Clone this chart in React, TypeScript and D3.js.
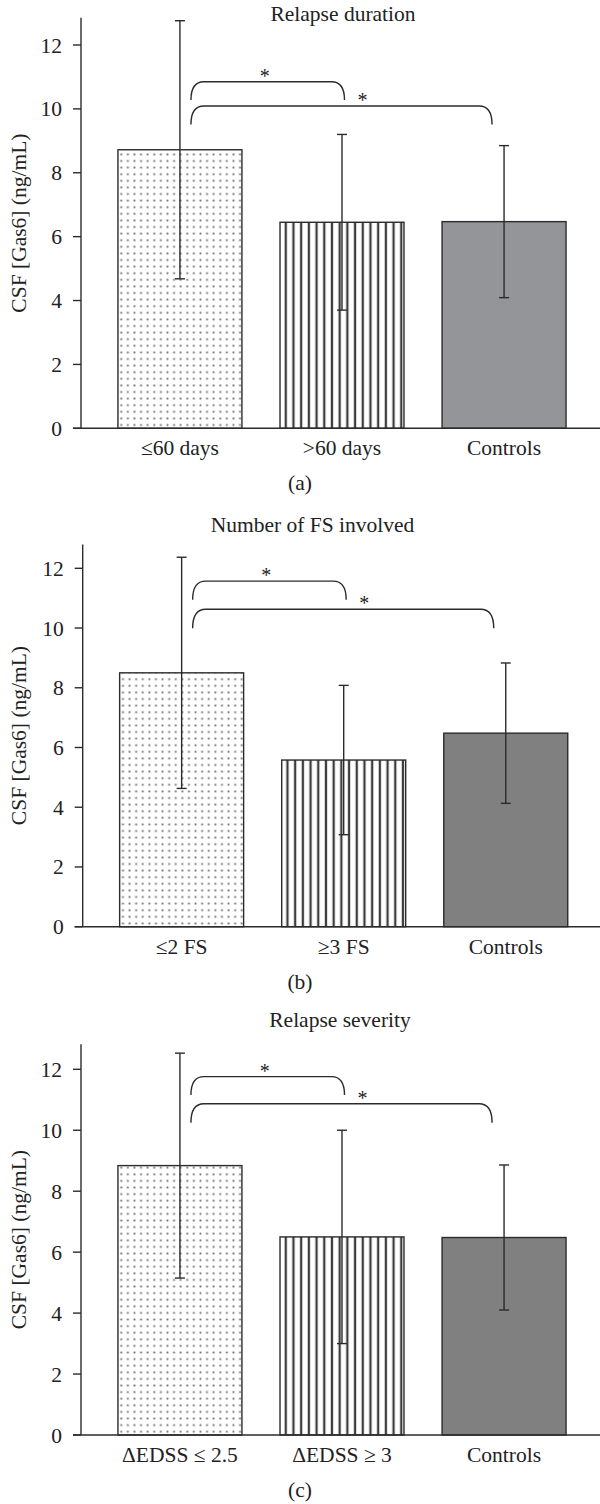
import React from 'react';
import * as d3 from 'd3';

const panelTitles = ['Relapse duration', 'Number of FS involved', 'Relapse severity'];
const panelCaptions = ['(a)', '(b)', '(c)'];
const categoriesA = ['≤60 days', '>60 days', 'Controls'];
const categoriesB = ['≤2 FS', '≥3 FS', 'Controls'];
const categoriesC = ['ΔEDSS ≤ 2.5', 'ΔEDSS ≥ 3', 'Controls'];
const meansA = [8.72, 6.45, 6.47];
const sdA = [4.04, 2.75, 2.38];
const meansB = [8.5, 5.58, 6.48];
const sdB = [3.87, 2.5, 2.35];
const meansC = [8.84, 6.5, 6.48];
const sdC = [3.69, 3.5, 2.38];
const yTicks = [0, 2, 4, 6, 8, 10, 12];
const yLabel = 'CSF [Gas6] (ng/mL)';
// significance brackets: from group, to group, top level, bottom level (ng/mL)
const bracketsA = [
  { from: 0, to: 1, top: 10.85, bottom: 10.28 },
  { from: 0, to: 2, top: 10.09, bottom: 9.51 },
];
const bracketsB = [
  { from: 0, to: 1, top: 11.57, bottom: 10.95 },
  { from: 0, to: 2, top: 10.63, bottom: 9.99 },
];
const bracketsC = [
  { from: 0, to: 1, top: 11.76, bottom: 11.16 },
  { from: 0, to: 2, top: 10.87, bottom: 10.25 },
];

const FONT = "'Liberation Serif', 'Times New Roman', serif";
const FS = 21.5;
const STAR_FS = 20;

type Layout = { y0: number; y12: number; dx: number; axisTopVal: number; titleY: number; titleX: number; labelY: number; captionY: number };

const layouts: Layout[] = [
  { y0: 428.3, y12: 45, dx: 0, axisTopVal: 12.85, titleY: 21, titleX: 343, labelY: 455, captionY: 490 },
  { y0: 926.7, y12: 568.3, dx: 1.7, axisTopVal: 12.8, titleY: 531.5, titleX: 312.5, labelY: 954, captionY: 989 },
  { y0: 1435, y12: 1069.3, dx: 0, axisTopVal: 12.82, titleY: 1026.5, titleX: 340, labelY: 1462, captionY: 1497 },
];

const panelData = [
  { cats: categoriesA, means: meansA, sds: sdA, brackets: bracketsA, control: '#939598' },
  { cats: categoriesB, means: meansB, sds: sdB, brackets: bracketsB, control: '#808080' },
  { cats: categoriesC, means: meansC, sds: sdC, brackets: bracketsC, control: '#808080' },
];

const INK = '#2b2b2b';

function Panel({ idx }: { idx: number }) {
  const L = layouts[idx];
  const D = panelData[idx];
  const y = d3.scaleLinear().domain([0, 12]).range([L.y0, L.y12]);
  const axisX = 81 + L.dx;
  const x = d3
    .scaleBand<string>()
    .domain(D.cats)
    .range([81 + L.dx, 603 + L.dx])
    .paddingInner(0.235)
    .paddingOuter(0.228);
  const bw = x.bandwidth();
  const cx = (i: number) => (x(D.cats[i]) as number) + bw / 2;
  const dotId = `dots${idx}`;
  const stripeId = `stripes${idx}`;
  const fills = [`url(#${dotId})`, `url(#${stripeId})`, D.control];
  const endDx = [0, 2.5, -12];
  const starFrac = [0.48, 0.57];
  return (
    <g>
      <defs>
        <pattern id={dotId} patternUnits="userSpaceOnUse" x={x(D.cats[0]) as number} y={L.y0} width={6.6} height={6.6}>
          <rect width={6.6} height={6.6} fill="#fff" />
          <rect x={2.4} y={2.4} width={1.8} height={1.8} fill="#6a6a6a" />
        </pattern>
        <pattern id={stripeId} patternUnits="userSpaceOnUse" x={x(D.cats[1]) as number} y={0} width={7.7} height={20}>
          <rect width={7.7} height={20} fill="#fff" />
          <rect x={4.6} y={0} width={2.3} height={20} fill="#3d3d3d" />
        </pattern>
      </defs>
      <text x={L.titleX} y={L.titleY} textAnchor="middle" fontFamily={FONT} fontSize={FS} fill="#222">
        {panelTitles[idx]}
      </text>
      {D.means.map((m, i) => (
        <rect
          key={'b' + i}
          x={x(D.cats[i]) as number}
          y={y(m)}
          width={bw}
          height={y(0) - y(m)}
          fill={fills[i]}
          stroke={INK}
          strokeWidth={1.4}
        />
      ))}
      {D.means.map((m, i) => {
        const c = cx(i);
        const hi = y(m + D.sds[i]);
        const lo = y(m - D.sds[i]);
        return (
          <g key={'e' + i} stroke={INK} strokeWidth={1.4}>
            <line x1={c} x2={c} y1={hi} y2={lo} />
            <line x1={c - 5} x2={c + 5} y1={hi} y2={hi} />
            <line x1={c - 5} x2={c + 5} y1={lo} y2={lo} />
          </g>
        );
      })}
      <line x1={axisX} x2={axisX} y1={y(L.axisTopVal)} y2={y(0)} stroke={INK} strokeWidth={1.4} />
      <line x1={axisX - 8} x2={600} y1={y(0)} y2={y(0)} stroke={INK} strokeWidth={1.4} />
      {yTicks.map((t) => (
        <g key={'t' + t}>
          <line x1={axisX - 8} x2={axisX} y1={y(t)} y2={y(t)} stroke={INK} strokeWidth={1.4} />
          <text x={axisX - 19} y={y(t) + 7.5} textAnchor="end" fontFamily={FONT} fontSize={FS} fill="#222">
            {t}
          </text>
        </g>
      ))}
      <text
        transform={`translate(26,${(y(0) + y(L.axisTopVal)) / 2}) rotate(-90)`}
        textAnchor="middle"
        fontFamily={FONT}
        fontSize={FS}
        fill="#222"
      >
        {yLabel}
      </text>
      {D.cats.map((c, i) => (
        <text key={'c' + i} x={cx(i)} y={L.labelY} textAnchor="middle" fontFamily={FONT} fontSize={FS} fill="#222">
          {c}
        </text>
      ))}
      {D.brackets.map((b, k) => {
        const x0 = cx(b.from) + 11;
        const x1 = cx(b.to) + endDx[b.to];
        const yt = y(b.top);
        const yb = y(b.bottom);
        const r = 13;
        const path = `M${x0},${yb} C${x0},${yt + 6} ${x0 + 4},${yt} ${x0 + r},${yt} L${x1 - r},${yt} C${x1 - 4},${yt} ${x1},${yt + 6} ${x1},${yb}`;
        const sx = x0 + (x1 - x0) * starFrac[k];
        return (
          <g key={'k' + k}>
            <path d={path} fill="none" stroke={INK} strokeWidth={1.4} />
            <text x={sx} y={yt + 1} textAnchor="middle" fontFamily={FONT} fontSize={STAR_FS} fill="#222">
              *
            </text>
          </g>
        );
      })}
      <text x={300} y={L.captionY} textAnchor="middle" fontFamily={FONT} fontSize={FS} fill="#222">
        {panelCaptions[idx]}
      </text>
    </g>
  );
}

export default function App() {
  return (
    <svg
      width={600}
      height={1504}
      viewBox="0 0 600 1504"
      style={{ position: 'absolute', left: 0, top: 0, background: '#fff' }}
    >
      <rect width={600} height={1504} fill="#fff" />
      <Panel idx={0} />
      <Panel idx={1} />
      <Panel idx={2} />
    </svg>
  );
}
